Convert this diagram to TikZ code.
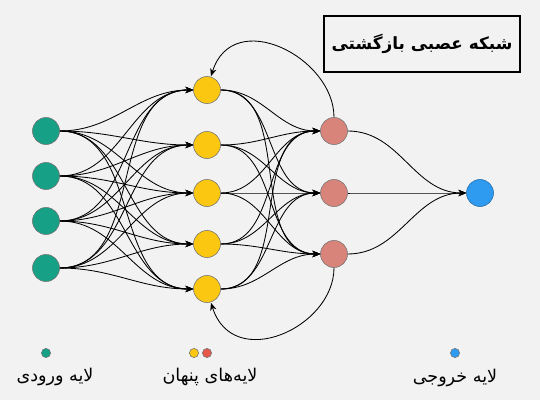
\documentclass[tikz,border=0pt]{standalone}
\usepackage{fontspec}
\newfontfamily\farsi[Script=Arabic]{DejaVu Sans}
\TeXXeTstate=1
\usetikzlibrary{arrows.meta}

\definecolor{bgcol}{HTML}{F2F2F2}
\definecolor{ingreen}{HTML}{16A085}
\definecolor{hidyellow}{HTML}{FBC711}
\definecolor{hidred}{HTML}{D9847A}
\definecolor{legred}{HTML}{E5574B}
\definecolor{outblue}{HTML}{2E9AF0}

\tikzset{
    neuron/.style={draw=black!55, circle, inner sep=0pt, minimum size=0.675cm},
    dot/.style={draw=black!55, circle, inner sep=0pt, minimum size=0.23cm},
    conn/.style={line width=0.6pt, -{Stealth[length=5.5pt, width=4.5pt]}},
    legend/.style={font=\farsi\fontsize{12.5}{14}\selectfont}
}

\begin{document}
\begin{tikzpicture}[x=0.025cm, y=-0.025cm]
    \fill[bgcol] (0, 0) rectangle (540, 400);

    % input layer
    \node[neuron, fill=ingreen] at (46, 131) (i1) {};
    \node[neuron, fill=ingreen] at (46, 176) (i2) {};
    \node[neuron, fill=ingreen] at (46, 221) (i3) {};
    \node[neuron, fill=ingreen] at (46, 268) (i4) {};

    % hidden layers
    \node[neuron, fill=hidyellow] at (207, 90)  (h1) {};
    \node[neuron, fill=hidyellow] at (207, 145) (h2) {};
    \node[neuron, fill=hidyellow] at (207, 193) (h3) {};
    \node[neuron, fill=hidyellow] at (207, 244) (h4) {};
    \node[neuron, fill=hidyellow] at (207, 289) (h5) {};

    \node[neuron, fill=hidred] at (334, 131) (r1) {};
    \node[neuron, fill=hidred] at (334, 193) (r2) {};
    \node[neuron, fill=hidred] at (334, 254) (r3) {};

    % output
    \node[neuron, fill=outblue, draw=outblue!70!black] at (480, 193) (o) {};

    \foreach \a in {1,...,4}
        \foreach \b in {1,...,5}
            \draw[conn] (i\a.east) to[out=0, in=180] (h\b.west);
    \foreach \a in {1,...,5}
        \foreach \b in {1,...,3}
            \draw[conn] (h\a.east) to[out=0, in=180] (r\b.west);
    \foreach \b in {1,...,3}
        \draw[conn] (r\b.east) to[out=0, in=180] (o.west);

    % recurrent links
    \draw[conn] (r1.north) .. controls +(0, -60) and +(22, -70) .. ([xshift=0.1cm]h1.north);
    \draw[conn] (r3.south) .. controls +(0, 60) and +(22, 70) .. ([xshift=0.1cm]h5.south);

    % title
    \node[draw, line width=1.5pt, minimum width=4.9cm, minimum height=1.42cm]
        at (422, 44) (title) {\farsi\bfseries\fontsize{12}{14}\selectfont\beginR شبکه عصبی بازگشتی\endR};

    % legend
    \node[dot, fill=ingreen]   at (46, 353)  (d1) {};
    \node[dot, fill=hidyellow] at (194, 353) (d2) {};
    \node[dot, fill=legred]    at (207, 353) (d3) {};
    \node[dot, fill=outblue]   at (455, 353) (d4) {};
    \node[legend] at (55, 377)  (l1) {\beginR لایه ورودی\endR};
    \node[legend] at (210, 377) (l2) {\beginR لایه‌های پنهان\endR};
    \node[legend] at (455, 378) (l3) {\beginR لایه خروجی\endR};
\end{tikzpicture}
\end{document}
